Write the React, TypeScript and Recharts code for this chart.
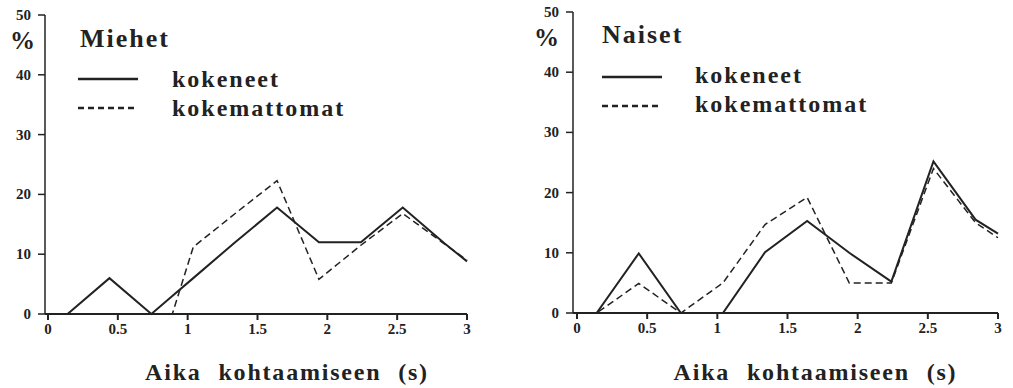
import { LineChart, Line, XAxis, YAxis, Legend } from "recharts";

// time bins (s) where the curves have their corners
const times = [0, 0.14, 0.44, 0.74, 0.89, 1.04, 1.34, 1.64, 1.94, 2.24, 2.54, 2.84, 3];

// % values
const miehetKokeneet = [0, 0, 6, 0, 3, 6, 12, 17.8, 12, 12, 17.8, 11.8, 8.8];
const miehetKokemattomat = [0, 0, 0, 0, 0, 11.2, 16.8, 22.3, 5.8, 11.5, 16.8, 11.7, 9];
const naisetKokeneet = [0, 0, 9.9, 0, 0, 0, 10.1, 15.3, 10, 5.2, 25.2, 15.5, 13.2];
const naisetKokemattomat = [0, 0, 4.9, 0, 2.5, 5, 14.7, 19.2, 5, 5, 24, 15, 12.5];

const xTicks = [0, 0.5, 1, 1.5, 2, 2.5, 3];
const yTicks = [0, 10, 20, 30, 40, 50];
const seriesNames = ["kokeneet", "kokemattomat"];

const FONT = '"Liberation Serif", "DejaVu Serif", serif';
const INK = "#222";
const DASH = "7 4";

// custom tick texts so the font settings stick
const XTick = (props: any) => (
  <text x={props.x} y={props.y} dy={12} textAnchor="middle" fontFamily={FONT} fontWeight="bold" fontSize={15} fill={INK}>
    {props.payload.value}
  </text>
);

const YTick = (props: any) => (
  <text x={props.x} y={props.y} dy={5} textAnchor="end" fontFamily={FONT} fontWeight="bold" fontSize={15} fill={INK}>
    {props.payload.value}
  </text>
);

interface PanelProps {
  title: string;
  a: number[];
  b: number[];
  left: number;
  width: number;
  top: number;
  right: number;
  yWidth: number;
  xHeight: number;
  padLeft: number;
  labelDx: number;
  legend: { titleX: number; titleY: number; lineX: number; textX: number; rows: number[]; textOffset: number };
}

const Panel = ({ title, a, b, left, width, top, right, yWidth, xHeight, padLeft, labelDx, legend }: PanelProps) => {
  const data = times.map((t, i) => ({ t, a: a[i], b: b[i] }));

  const renderLegend = () => (
    <svg width={width} height={130} style={{ display: "block" }}>
      <text x={legend.titleX} y={legend.titleY} fontFamily={FONT} fontWeight="bold" fontSize={26} letterSpacing={2} fill={INK}>
        {title}
      </text>
      {seriesNames.map((name, i) => (
        <g key={name}>
          <line
            x1={legend.lineX}
            x2={legend.lineX + 60}
            y1={legend.rows[i]}
            y2={legend.rows[i]}
            stroke={INK}
            strokeWidth={2.6}
            strokeDasharray={i === 1 ? "6 4" : undefined}
          />
          <text x={legend.textX} y={legend.rows[i] + legend.textOffset} fontFamily={FONT} fontWeight="bold" fontSize={24} letterSpacing={2} fill={INK}>
            {name}
          </text>
        </g>
      ))}
    </svg>
  );

  return (
    <div style={{ position: "absolute", left, top: 0 }}>
      <LineChart width={width} height={388} data={data} margin={{ top, right, bottom: 0, left: 0 }}>
        <XAxis
          dataKey="t"
          type="number"
          domain={[0, 3]}
          ticks={xTicks}
          padding={{ left: padLeft, right: 0 }}
          height={xHeight}
          stroke={INK}
          strokeWidth={2}
          tickSize={6}
          tickMargin={2}
          tick={XTick}
          label={{
            value: "Aika kohtaamiseen (s)",
            position: "insideBottom",
            offset: 8,
            dx: labelDx,
            style: { fontFamily: FONT, fontWeight: "bold", fontSize: 24, fill: INK, letterSpacing: 1.8, wordSpacing: 9 },
          }}
        />
        <XAxis xAxisId="top" type="number" orientation="top" domain={[0, 3]} height={0} tick={false} tickLine={false} stroke="#444" strokeWidth={1.5} />
        <YAxis
          type="number"
          domain={[0, 50]}
          ticks={yTicks}
          width={yWidth}
          stroke={INK}
          strokeWidth={1.5}
          tickSize={7}
          tickMargin={7}
          tick={YTick}
          label={{ value: "%", position: "insideTop", offset: 16, style: { fontFamily: FONT, fontWeight: "bold", fontSize: 25, fill: INK } }}
        />
        <YAxis yAxisId="right" type="number" orientation="right" domain={[0, 50]} width={0} tick={false} tickLine={false} stroke="#444" strokeWidth={1.5} />
        <Legend
          layout="vertical"
          align="center"
          verticalAlign="middle"
          content={renderLegend}
          wrapperStyle={{ left: 0, top: 0, width, height: 130 }}
        />
        <Line dataKey="a" name={seriesNames[0]} stroke={INK} strokeWidth={2} dot={false} isAnimationActive={false} />
        <Line dataKey="b" name={seriesNames[1]} stroke={INK} strokeWidth={1.5} strokeDasharray={DASH} dot={false} isAnimationActive={false} />
      </LineChart>
    </div>
  );
};

export default function App() {
  return (
    <div style={{ position: "absolute", left: 0, top: 0, width: 1013, height: 388, background: "#fff" }}>
      <Panel
        title="Miehet"
        a={miehetKokeneet}
        b={miehetKokemattomat}
        left={0}
        width={490}
        top={15}
        right={23}
        yWidth={45}
        xHeight={74}
        padLeft={3}
        labelDx={31}
        legend={{ titleX: 80, titleY: 47, lineX: 78, textX: 172, rows: [79, 108], textOffset: 8 }}
      />
      <Panel
        title="Naiset"
        a={naisetKokeneet}
        b={naisetKokemattomat}
        left={520}
        width={493}
        top={12}
        right={15}
        yWidth={53}
        xHeight={75}
        padLeft={4}
        labelDx={30}
        legend={{ titleX: 82, titleY: 43, lineX: 82, textX: 175, rows: [77, 106], textOffset: 6 }}
      />
    </div>
  );
}
